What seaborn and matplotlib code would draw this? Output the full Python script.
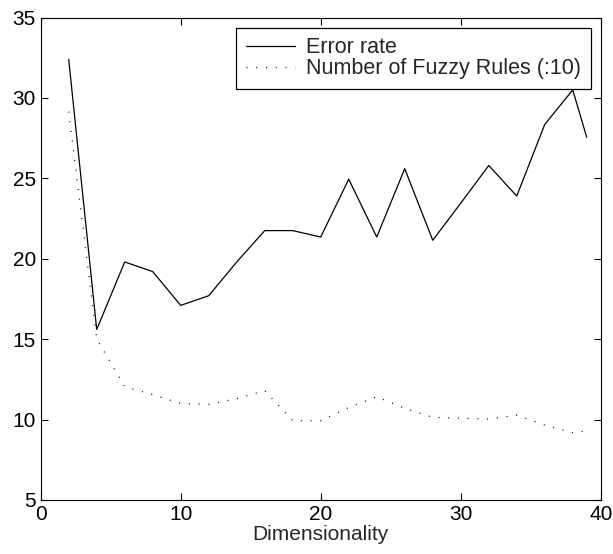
import pandas as pd
import numpy as np
import matplotlib
matplotlib.use("Agg")
import matplotlib.pyplot as plt
import seaborn as sns

# valores
dims = [2, 4, 6, 8, 10, 12, 14, 16, 18, 20, 22, 24, 26, 28, 30, 32, 34, 36, 38, 39]
error_rate = [32.4, 15.6, 19.8, 19.2, 17.1, 17.7, 19.8, 21.75, 21.75, 21.35,
              24.95, 21.35, 25.6, 21.15, 23.45, 25.8, 23.9, 28.35, 30.5, 27.55]
fuzzy_rules = [29.15, 15.0, 12.05, 11.55, 11.0, 10.95, 11.3, 11.8, 9.93, 9.93,
               10.75, 11.42, 10.7, 10.14, 10.08, 10.04, 10.27, 9.66, 9.19, 9.29]
x_ticks = [0, 10, 20, 30, 40]
y_ticks = [5, 10, 15, 20, 25, 30, 35]

sns.set_style("ticks")
plt.rcParams['font.family'] = ['Liberation Sans', 'DejaVu Sans']
plt.rcParams['font.size'] = 15

df = pd.DataFrame({'dim': dims, 'error': error_rate, 'rules': fuzzy_rules})

fig = plt.figure(figsize=(6.13, 5.54), dpi=100)
ax = fig.add_axes([0.0664, 0.0975, 0.9136, 0.8709])

sns.lineplot(data=df, x='dim', y='error', ax=ax, color='black', linewidth=0.9,
             label='Error rate')
sns.lineplot(data=df, x='dim', y='rules', ax=ax, color='black', linewidth=0.9,
             linestyle=(0, (0.8, 7)), label='Number of Fuzzy Rules (:10)')

ax.set_xlim(0, 40)
ax.set_ylim(5, 35)
ax.set_xticks(x_ticks)
ax.set_yticks(y_ticks)
ax.set_xlabel('Dimensionality', labelpad=1)
ax.set_ylabel('')
ax.tick_params(direction='in', length=5, width=0.8, top=True, right=True,
               colors='black', labelsize=15)
for s in ax.spines.values():
    s.set_visible(True)
    s.set_linewidth(0.8)
    s.set_color('black')

leg = ax.legend(loc='upper right', bbox_to_anchor=(1 - 10 / 560, 1 - 10 / 482.5),
                borderaxespad=0, frameon=True, fancybox=False, framealpha=1,
                edgecolor='black', handlelength=2.3, handletextpad=0.5,
                labelspacing=0.0, borderpad=0.45, fontsize=15.5)
leg.get_frame().set_linewidth(0.9)

fig.savefig('out.png', dpi=100)
